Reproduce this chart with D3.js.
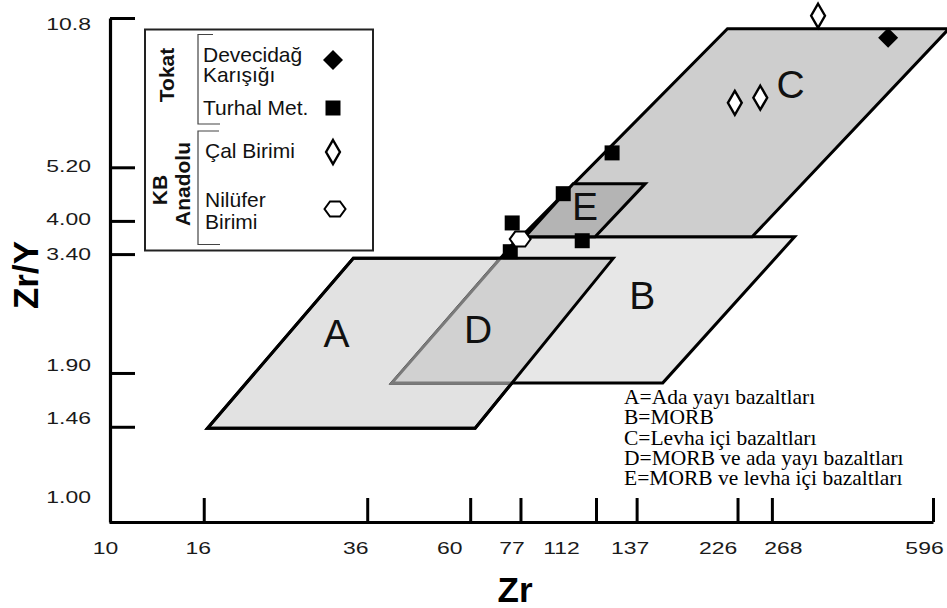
<!DOCTYPE html>
<html><head><meta charset="utf-8">
<script src="https://cdn.jsdelivr.net/npm/d3@7"></script>
<style>body{margin:0;background:#fff} svg{display:block}</style>
</head><body>
<svg id="chart" width="947" height="608"></svg>
<script>
// ---- axes ----
const xTicks = [10, 16, 36, 60, 77, 112, 137, 226, 268, 596];
const yTicks = [1.00, 1.46, 1.90, 3.40, 4.00, 5.20, 10.8];
const yTickLabels = ["1.00", "1.46", "1.90", "3.40", "4.00", "5.20", "10.8"];
const xDomain = [10, 596];
const yDomain = [0.916, 10.8];

// ---- discrimination fields (Zr, Zr/Y) ----
const fieldA = [[16.3, 1.45], [61.5, 1.45], [122, 3.33], [33.6, 3.33]];
const fieldB = [[40.7, 1.81], [156, 1.81], [300, 3.70], [76.5, 3.70]];
const fieldC = [[77.3, 3.70], [243, 3.70], [645, 10.25], [215, 10.25]];
const fieldE = [[78.8, 3.70], [111.5, 3.70], [143, 4.80], [100, 4.80]];
const fieldNames = ["A", "B", "C", "D", "E"];
const fieldNameZr = [30.9, 140.8, 294, 62.4, 106];
const fieldNameZrY = [2.16, 2.60, 7.31, 2.20, 4.01];
const fieldNotes = ["A=Ada yayı bazaltları", "B=MORB", "C=Levha içi bazaltları",
  "D=MORB ve ada yayı bazaltları", "E=MORB ve levha içi bazaltları"];

// ---- samples ----
const devecidagZr = [477];
const devecidagZrY = [9.81];
const turhalZr = [121.3, 95.2, 73.9, 73.2, 104.6];
const turhalZrY = [5.58, 4.57, 3.96, 3.44, 3.63];
const calZr = [337, 223, 253];
const calZrY = [10.92, 7.13, 7.31];
const niluferZr = [76.9];
const niluferZrY = [3.66];

// layout: small label nudges (px) so tick labels sit where the original drawing put them
const xLabelNudge = {10: -4, 16: -6, 36: -12, 60: -21, 77: -9, 112: -35, 137: -7, 226: -20, 268: 11, 596: -9};
const yLabelNudge = {1: -8, 1.46: -9, 1.9: -9, 3.4: -1, 4: -3, 5.2: -2, 10.8: 5};

const svg = d3.select("#chart");
const x = d3.scaleLog().domain(xDomain).range([109, 933]);
const y = d3.scaleLog().domain(yDomain).range([522, 18]);
const poly = pts => "M" + pts.map(p => x(p[0]) + "," + y(p[1])).join("L") + "Z";
const SANS = "Arial, 'Liberation Sans', sans-serif";
const SX = 1.35;

// fields
svg.append("clipPath").attr("id", "clipA").append("path").attr("d", poly(fieldA));
svg.append("path").attr("d", poly(fieldA)).attr("fill", "#e2e2e2").attr("stroke", "#000").attr("stroke-width", 3);
svg.append("path").attr("d", poly(fieldB)).attr("fill", "#e7e7e7").attr("stroke", "#000").attr("stroke-width", 3);
// D = overlap of A and B
svg.append("path").attr("d", poly(fieldB)).attr("clip-path", "url(#clipA)").attr("fill", "#d1d1d1").attr("stroke", "#7a7a7a").attr("stroke-width", 3);
svg.append("path").attr("d", poly(fieldA)).attr("fill", "none").attr("stroke", "#000").attr("stroke-width", 3);
svg.append("path").attr("d", poly(fieldC)).attr("fill", "#cecece").attr("stroke", "#000").attr("stroke-width", 3);
svg.append("path").attr("d", poly(fieldE)).attr("fill", "#b4b4b4").attr("stroke", "#000").attr("stroke-width", 3);

fieldNames.forEach((n, i) => {
  svg.append("text").attr("x", x(fieldNameZr[i])).attr("y", y(fieldNameZrY[i]))
    .attr("text-anchor", "middle").attr("font-family", SANS).attr("font-size", 39)
    .attr("fill", "#111").text(n);
});

// field notes
fieldNotes.forEach((t, i) => {
  svg.append("text").attr("x", 624).attr("y", 404 + i * 20.3)
    .attr("font-family", "'Times New Roman', 'Liberation Serif', serif").attr("font-size", 21.5)
    .attr("fill", "#000").text(t);
});

// axes
const xAxis = d3.axisBottom(x).tickValues(xTicks).tickSizeInner(-24).tickSizeOuter(0).tickFormat(d3.format("d"));
const gx = svg.append("g").attr("transform", "translate(0,522)").call(xAxis);
const yAxis = d3.axisLeft(y).tickValues(yTicks).tickSizeInner(-25).tickSizeOuter(0).tickFormat((d, i) => yTickLabels[i]);
const gy = svg.append("g").attr("transform", "translate(110,0)").call(yAxis);
[gx, gy].forEach(g => {
  g.attr("font-family", null).attr("font-size", null);
  g.select(".domain").attr("stroke", "#000").attr("stroke-width", 3.2);
  g.selectAll(".tick line").attr("stroke", "#000").attr("stroke-width", 3);
  g.selectAll(".tick text").attr("font-family", SANS).attr("font-size", 17).attr("fill", "#1a1a1a");
});
gx.selectAll(".tick").filter(d => d === 10).select("line").remove();
gy.selectAll(".tick").filter(d => d === 1).select("line").remove();
gx.selectAll(".tick text").attr("text-anchor", "middle").attr("x", d => (xLabelNudge[d] || 0) / SX)
  .attr("y", 32).attr("dy", 0).attr("transform", `scale(${SX},1)`);
gy.selectAll(".tick text").attr("text-anchor", "end").attr("x", -19 / SX)
  .attr("y", d => yLabelNudge[d] || 0).attr("dy", "0.36em").attr("transform", `scale(${SX},1)`);

svg.append("text").attr("transform", "translate(38,275) rotate(-90)").attr("text-anchor", "middle")
  .attr("font-family", SANS).attr("font-weight", "bold").attr("font-size", 35).text("Zr/Y");
svg.append("text").attr("x", 515).attr("y", 602).attr("text-anchor", "middle")
  .attr("font-family", SANS).attr("font-weight", "bold").attr("font-size", 35).text("Zr");

// markers
const sq = d3.symbol(d3.symbolSquare, 225)();
const dia = d3.symbol(d3.symbolDiamond, 166)();
const fdia = d3.symbol(d3.symbolSquare, 200)();
const hex = "M-10.5,0L-5,-7.5L5,-7.5L10.5,0L5,7.5L-5,7.5Z";
function pts(xs, ys, path, fill, stroke, sw, rot) {
  xs.forEach((v, i) => {
    svg.append("path").attr("d", path)
      .attr("transform", `translate(${x(v)},${y(ys[i])})` + (rot ? ` rotate(${rot})` : ""))
      .attr("fill", fill).attr("stroke", stroke).attr("stroke-width", sw);
  });
}
pts(turhalZr, turhalZrY, sq, "#000", "none", 0);
pts(calZr, calZrY, dia, "#fff", "#000", 2.4);
pts(devecidagZr, devecidagZrY, fdia, "#000", "none", 0, 45);
pts(niluferZr, niluferZrY, hex, "#fff", "#000", 2);

// legend
const lg = svg.append("g");
lg.append("rect").attr("x", 145).attr("y", 29.5).attr("width", 228).attr("height", 221)
  .attr("fill", "#fff").attr("stroke", "#222").attr("stroke-width", 2);
const br = (y0, y1, w0, w1) => lg.append("path")
  .attr("d", `M${198 + w0},${y0}H198V${y1}H${198 + w1}`).attr("fill", "none").attr("stroke", "#444").attr("stroke-width", 1.2);
br(34.5, 124, 15, 22);
br(131, 244.5, 21, 22);
const lt = (t, xx, yy, opts = {}) => lg.append("text").attr("x", xx).attr("y", yy)
  .attr("font-family", SANS).attr("font-size", opts.size || 21).attr("font-weight", opts.bold ? "bold" : null)
  .attr("text-anchor", opts.anchor || "start").attr("transform", opts.tr || null).attr("fill", "#111").text(t);
lt("Tokat", 0, 0, {bold: true, anchor: "middle", tr: "translate(173.5,75) rotate(-90)"});
lt("KB", 0, 0, {bold: true, anchor: "middle", tr: "translate(167,190) rotate(-90)"});
lt("Anadolu", 0, 0, {bold: true, anchor: "middle", tr: "translate(190,184) rotate(-90)"});
lt("Devecidağ", 203, 62);
lt("Karışığı", 203, 81.5);
lt("Turhal Met.", 203, 115);
lt("Çal Birimi", 205, 158);
lt("Nilüfer", 205, 206.5);
lt("Birimi", 205, 228.5);
lg.append("path").attr("d", fdia).attr("transform", "translate(333,60) rotate(45)").attr("fill", "#000");
lg.append("path").attr("d", sq).attr("transform", "translate(333,108)").attr("fill", "#000");
lg.append("path").attr("d", dia).attr("transform", "translate(333,152)").attr("fill", "#fff").attr("stroke", "#000").attr("stroke-width", 2.4);
lg.append("path").attr("d", hex).attr("transform", "translate(335,209)").attr("fill", "#fff").attr("stroke", "#000").attr("stroke-width", 2);
</script>
</body></html>
